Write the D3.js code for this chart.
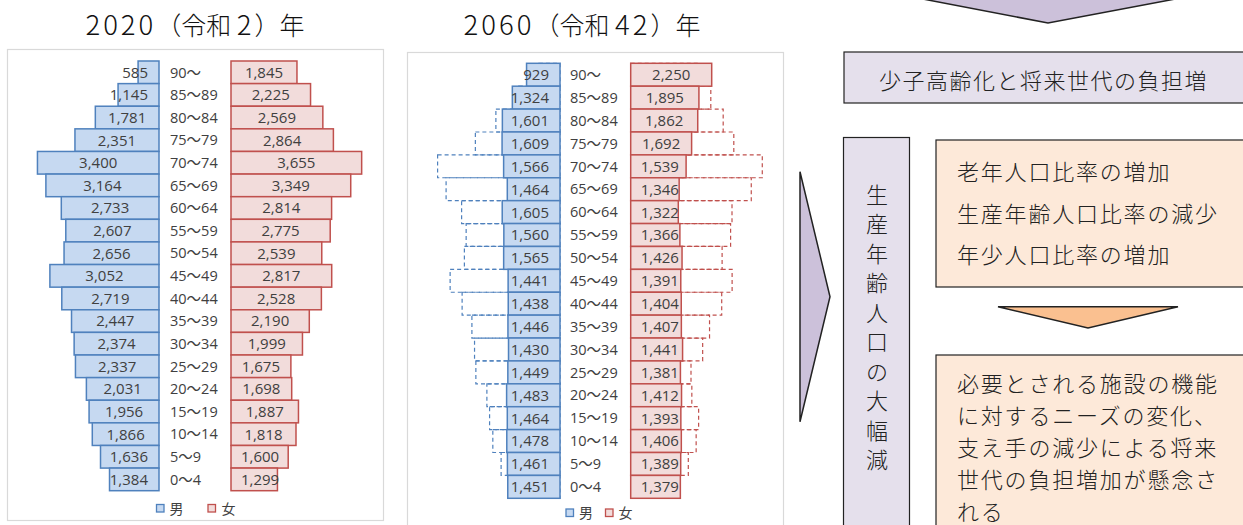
<!DOCTYPE html>
<html><head><meta charset="utf-8">
<script src="https://cdn.jsdelivr.net/npm/d3@7"></script>
<style>
html,body{margin:0;padding:0;background:#fff;}
svg{display:block;}
</style></head>
<body>
<svg id="c" width="1243" height="525"></svg>
<script>
const ages = ["90～","85～89","80～84","75～79","70～74","65～69","60～64","55～59","50～54","45～49","40～44","35～39","30～34","25～29","20～24","15～19","10～14","5～9","0～4"];
const male2020 = [585,1145,1781,2351,3400,3164,2733,2607,2656,3052,2719,2447,2374,2337,2031,1956,1866,1636,1384];
const female2020 = [1845,2225,2569,2864,3655,3349,2814,2775,2539,2817,2528,2190,1999,1675,1698,1887,1818,1600,1299];
const male2060 = [929,1324,1601,1609,1566,1464,1605,1560,1565,1441,1438,1446,1430,1449,1483,1464,1478,1461,1451];
const female2060 = [2250,1895,1862,1692,1539,1346,1322,1366,1426,1391,1404,1407,1441,1381,1412,1393,1406,1389,1379];
const titles = ["2020（令和 2）年","2060（令和 42）年"];
const legendLabels = ["男","女"];
const headline = "少子高齢化と将来世代の負担増";
const verticalText = "生産年齢人口の大幅減";
const box1Lines = ["老年人口比率の増加","生産年齢人口比率の減少","年少人口比率の増加"];
const box2Lines = ["必要とされる施設の機能","に対するニーズの変化、","支え手の減少による将来","世代の負担増加が懸念さ","れる"];

const svg = d3.select("#c");
const COL = {mFill:"#c6d9f1", mStroke:"#4f81bd", fFill:"#f2dcdb", fStroke:"#c0504d", text:"#404040"};
const numFmt = d3.format(",");
const numFont = "'Open Sans', 'Noto Sans CJK JP', sans-serif";
const jpFont = "'Noto Sans CJK JP', sans-serif";

function drawTitle(str, cx){
  const t = svg.append("text").attr("x",cx).attr("y",35).attr("text-anchor","middle")
    .attr("font-family",jpFont).attr("font-weight",300).attr("fill","#111")
    .attr("xml:space","preserve").style("white-space","pre");
  const parts = str.match(/\d+|[^\d]+/g);
  parts.forEach(p=>{
    if(/^\d+$/.test(p)){
      t.append("tspan").attr("font-size",27.5).attr("letter-spacing",3).text(p);
    } else {
      t.append("tspan").attr("font-size",25).text(p);
    }
  });
}

function pyramid(cfg){
  const g = svg.append("g");
  g.append("rect").attr("x",cfg.panel[0]+0.5).attr("y",cfg.panel[1]+0.5)
    .attr("width",cfg.panel[2]).attr("height",cfg.panel[3])
    .attr("fill","#fff").attr("stroke","#d9d9d9").attr("stroke-width",1.2);
  drawTitle(cfg.title, cfg.titleX);
  const y = d3.scaleBand().domain(ages).range([cfg.top,cfg.bottom]).padding(0);
  const xm = d3.scaleLinear().domain([0,4000]).range([cfg.mEnd, cfg.mEnd-cfg.span]);
  const xf = d3.scaleLinear().domain([0,4000]).range([cfg.fStart, cfg.fStart+cfg.span]);
  if(cfg.refM){
    g.selectAll(".rm").data(ages).join("rect")
      .attr("x",(d,i)=>xm(cfg.refM[i])).attr("y",d=>y(d))
      .attr("width",(d,i)=>cfg.mEnd-xm(cfg.refM[i])).attr("height",y.bandwidth())
      .attr("fill","none").attr("stroke",COL.mStroke).attr("stroke-width",1.2).attr("stroke-dasharray","4,3");
    g.selectAll(".rf").data(ages).join("rect")
      .attr("x",cfg.fStart).attr("y",d=>y(d))
      .attr("width",(d,i)=>xf(cfg.refF[i])-cfg.fStart).attr("height",y.bandwidth())
      .attr("fill","none").attr("stroke",COL.fStroke).attr("stroke-width",1.2).attr("stroke-dasharray","4,3");
  }
  g.selectAll(".bm").data(ages).join("rect")
    .attr("x",(d,i)=>xm(cfg.male[i])).attr("y",d=>y(d))
    .attr("width",(d,i)=>cfg.mEnd-xm(cfg.male[i])).attr("height",y.bandwidth())
    .attr("fill",COL.mFill).attr("stroke",COL.mStroke).attr("stroke-width",1.5);
  g.selectAll(".bf").data(ages).join("rect")
    .attr("x",cfg.fStart).attr("y",d=>y(d))
    .attr("width",(d,i)=>xf(cfg.female[i])-cfg.fStart).attr("height",y.bandwidth())
    .attr("fill",COL.fFill).attr("stroke",COL.fStroke).attr("stroke-width",1.5);
  g.selectAll(".age").data(ages).join("text")
    .attr("x",cfg.ageX).attr("y",d=>y(d)+y.bandwidth()/2).attr("dy","0.36em")
    .attr("font-family",numFont).attr("font-size",14.5).attr("fill",COL.text)
    .each(function(d){
      const sel = d3.select(this);
      d.split(/(～)/).forEach(s=>{
        if(!s) return;
        const ts = sel.append("tspan").text(s);
        if(s==="～") ts.attr("font-family",jpFont).attr("font-size",14.5);
      });
    });
  g.selectAll(".lm").data(ages).join("text")
    .attr("y",d=>y(d)+y.bandwidth()/2).attr("dy","0.36em")
    .attr("font-family",numFont).attr("font-size",15).attr("fill",COL.text)
    .text((d,i)=>numFmt(cfg.male[i]))
    .each(function(d,i){
      const w=this.getComputedTextLength();
      let c=(xm(cfg.male[i])+cfg.mEnd)/2;
      if(c+w/2>cfg.mEnd-11) c=cfg.mEnd-11-w/2;
      d3.select(this).attr("x",c).attr("text-anchor","middle");
    });
  g.selectAll(".lf").data(ages).join("text")
    .attr("y",d=>y(d)+y.bandwidth()/2).attr("dy","0.36em")
    .attr("font-family",numFont).attr("font-size",15).attr("fill",COL.text)
    .text((d,i)=>numFmt(cfg.female[i]))
    .each(function(d,i){
      const w=this.getComputedTextLength();
      let c=(xf(cfg.female[i])+cfg.fStart)/2;
      if(c-w/2<cfg.fStart+10) c=cfg.fStart+10+w/2;
      d3.select(this).attr("x",c).attr("text-anchor","middle");
    });
  const L = cfg.legend;
  [[COL.mFill,COL.mStroke],[COL.fFill,COL.fStroke]].forEach((c,k)=>{
    g.append("rect").attr("x",L.sq[k]).attr("y",L.y-4).attr("width",7.5).attr("height",7.5)
      .attr("fill",c[0]).attr("stroke",c[1]).attr("stroke-width",1.3);
    g.append("text").attr("x",L.tx[k]).attr("y",L.y).attr("dy","0.36em")
      .attr("font-family",jpFont).attr("font-size",14).attr("fill",COL.text).text(legendLabels[k]);
  });
}

pyramid({panel:[7,49,376,471], title:titles[0], titleX:195, top:61, bottom:490.7, mEnd:159, fStart:231, span:143, ageX:170,
  male:male2020, female:female2020, legend:{y:508.5, sq:[156.5,208], tx:[169.5,221.5]}});
pyramid({panel:[407,52,376,480], title:titles[1], titleX:582, top:63.3, bottom:498.3, mEnd:560, fStart:630.7, span:144, ageX:570,
  male:male2060, female:female2060, refM:male2020, refF:female2020, legend:{y:513, sq:[566,605.5], tx:[579,618.5]}});

// right-side diagram
const d = svg.append("g");
const stroke = "#222";
const lav = "#e5e0ec", lavDark="#ccc1da", peach="#fde9d9", orange="#fac090";
d.append("path").attr("d","M917.6,-2 L1048,23 L1180.6,-2 Z").attr("fill",lavDark).attr("stroke",stroke).attr("stroke-width",1.5);
d.append("rect").attr("x",844).attr("y",52).attr("width",420).attr("height",51).attr("fill",lav).attr("stroke",stroke).attr("stroke-width",1.2);
d.append("text").attr("x",1043.5).attr("y",81).attr("dy","0.35em").attr("text-anchor","middle")
  .attr("font-family",jpFont).attr("font-size",22).attr("font-weight",300).attr("letter-spacing",1.5).attr("fill","#222").text(headline);
d.append("path").attr("d","M800,171.7 L830,296.7 L800,421.7 Z").attr("fill",lavDark).attr("stroke",stroke).attr("stroke-width",1.5);
d.append("rect").attr("x",843.5).attr("y",137.5).attr("width",66).attr("height",420).attr("fill",lav).attr("stroke",stroke).attr("stroke-width",1.2);
d.selectAll(".vt").data(Array.from(verticalText)).join("text")
  .attr("x",877).attr("y",(c,i)=>195+29.5*i).attr("dy","0.35em").attr("text-anchor","middle")
  .attr("font-family",jpFont).attr("font-size",22).attr("font-weight",300).attr("fill","#222").text(c=>c);
d.append("rect").attr("x",936).attr("y",140).attr("width",330).attr("height",147).attr("fill",peach).attr("stroke",stroke).attr("stroke-width",1.2);
d.selectAll(".b1").data(box1Lines).join("text")
  .attr("x",957).attr("y",(t,i)=>[172,214,255][i]).attr("dy","0.35em")
  .attr("font-family",jpFont).attr("font-size",22).attr("font-weight",300).attr("letter-spacing",1.8).attr("fill","#222").text(t=>t);
d.append("path").attr("d","M998,306.7 L1178,306.7 L1088,328 Z").attr("fill",orange).attr("stroke",stroke).attr("stroke-width",1.5);
d.append("rect").attr("x",936).attr("y",355).attr("width",330).attr("height",200).attr("fill",peach).attr("stroke",stroke).attr("stroke-width",1.2);
d.selectAll(".b2").data(box2Lines).join("text")
  .attr("x",957).attr("y",(t,i)=>384+32*i).attr("dy","0.35em")
  .attr("font-family",jpFont).attr("font-size",22).attr("font-weight",300).attr("letter-spacing",1.8).attr("fill","#222").text(t=>t);
</script>
</body></html>
